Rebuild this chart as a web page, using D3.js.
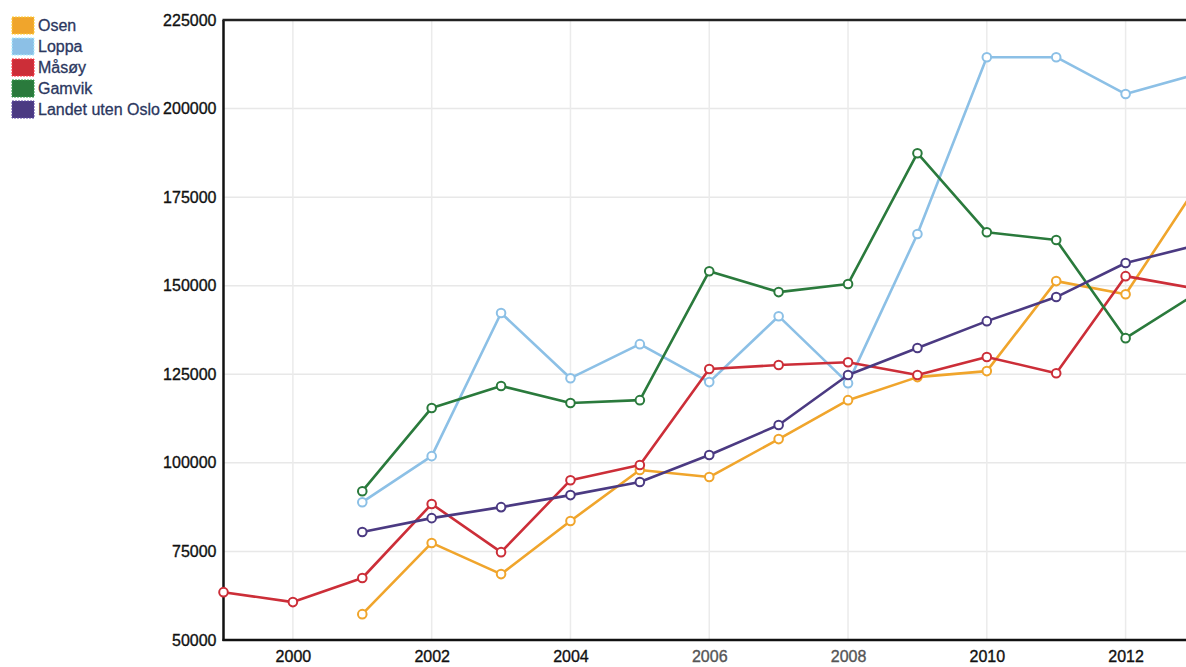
<!DOCTYPE html>
<html><head><meta charset="utf-8">
<script src="https://cdn.jsdelivr.net/npm/d3@7"></script>
<style>body{margin:0;background:#fff;}svg{display:block;font-family:"Liberation Sans",Arial,sans-serif;}</style>
</head><body>
<svg id="chart" width="1186" height="667"></svg>
<script>
const years = [1999,2000,2001,2002,2003,2004,2005,2006,2007,2008,2009,2010,2011,2012,2013];
const seriesNames = ["Osen","Loppa","Måsøy","Gamvik","Landet uten Oslo"];
const seriesColors = ["#f0a52c","#8cc0e6","#cc2e38","#2a7a3c","#4b3a82"];
const osen   = [null,null,57300,77400,68600,83600,98000,96000,106700,117700,124200,125900,151300,147600,177300];
const loppa  = [null,null,88900,101900,142300,123900,133500,122800,141400,122500,164600,214500,214500,204100,209600];
const masoy  = [63500,60700,67500,88400,74800,95100,99400,126500,127600,128400,124800,129900,125300,152700,149200];
const gamvik = [null,null,92000,115500,121700,116900,117700,154100,148200,150500,187400,165100,162900,135200,147600];
const landet = [null,null,80500,84400,87500,90900,94600,102200,110700,124800,132400,140000,146800,156400,161300];
const seriesValues = [osen,loppa,masoy,gamvik,landet];
const yTicks = [50000,75000,100000,125000,150000,175000,200000,225000];
const xTicks = [2000,2002,2004,2006,2008,2010,2012];

const svg = d3.select("#chart");
const x = d3.scaleLinear().domain([1999,2013]).range([223.5,1195]);
const y = d3.scaleLinear().domain([50000,225000]).range([640,20]);

// grid
const grid = svg.append("g");
grid.selectAll("line.h").data(yTicks).join("line")
  .attr("x1",x(1999)).attr("x2",1186).attr("y1",d=>y(d)).attr("y2",d=>y(d))
  .attr("stroke","#e8e8e8").attr("stroke-width",1.5);
grid.selectAll("line.v").data(xTicks).join("line")
  .attr("x1",d=>x(d)).attr("x2",d=>x(d)).attr("y1",y(225000)).attr("y2",y(50000))
  .attr("stroke","#ebebeb").attr("stroke-width",1.5);

// axes
const yAxis = d3.axisLeft(y).tickValues(yTicks).tickSize(0).tickPadding(7).tickFormat(d3.format("d"));
const gy = svg.append("g").attr("transform",`translate(${x(1999)},0)`).call(yAxis);
gy.select(".domain").remove();
gy.selectAll("text").attr("font-size",16).attr("fill","#111").attr("stroke","#111").attr("stroke-width",0.35)
  .attr("font-family","Liberation Sans, Arial, sans-serif");

const xAxis = d3.axisBottom(x).tickValues(xTicks).tickSize(0).tickPadding(11).tickFormat(d3.format("d"));
const gx = svg.append("g").attr("transform",`translate(0,${y(50000)})`).call(xAxis);
gx.select(".domain").remove();
gx.selectAll("text").attr("font-size",16)
  .attr("fill",d=>(d===2006||d===2008)?"#555":"#111")
  .attr("stroke",d=>(d===2006||d===2008)?"#555":"#111").attr("stroke-width",0.35)
  .attr("font-family","Liberation Sans, Arial, sans-serif");

// frame
svg.append("line").attr("x1",x(1999)).attr("x2",x(1999)).attr("y1",y(225000)).attr("y2",y(50000)+1).attr("stroke","#111").attr("stroke-width",2.5);
svg.append("line").attr("x1",x(1999)-1).attr("x2",1186).attr("y1",y(225000)).attr("y2",y(225000)).attr("stroke","#222").attr("stroke-width",2.5);
svg.append("line").attr("x1",x(1999)-1).attr("x2",1186).attr("y1",y(50000)).attr("y2",y(50000)).attr("stroke","#111").attr("stroke-width",2.5);

// lines
const line = d3.line().defined(d=>d.v!==null).x(d=>x(d.yr)).y(d=>y(d.v));
seriesValues.forEach((vals,i)=>{
  const pts = years.map((yr,j)=>({yr,v:vals[j]}));
  svg.append("path").datum(pts).attr("d",line).attr("fill","none")
    .attr("stroke",seriesColors[i]).attr("stroke-width",2.6).attr("stroke-linejoin","round");
  svg.append("g").selectAll("circle").data(pts.filter(d=>d.v!==null)).join("circle")
    .attr("cx",d=>x(d.yr)).attr("cy",d=>y(d.v)).attr("r",4.3)
    .attr("fill","#fff").attr("stroke",seriesColors[i]).attr("stroke-width",2);
});

// legend
const leg = svg.append("g");
seriesNames.forEach((n,i)=>{
  const g = leg.append("g").attr("transform",`translate(12,${17+i*21})`);
  g.append("rect").attr("width",22).attr("height",17).attr("fill",seriesColors[i])
    .attr("stroke",d3.color(seriesColors[i]).brighter(0.6)).attr("stroke-dasharray","2,1");
  g.append("text").attr("x",26).attr("y",14).text(n).attr("font-size",16)
    .attr("fill","#2b3760").attr("stroke","#2b3760").attr("stroke-width",0.3);
});
</script>
</body></html>
